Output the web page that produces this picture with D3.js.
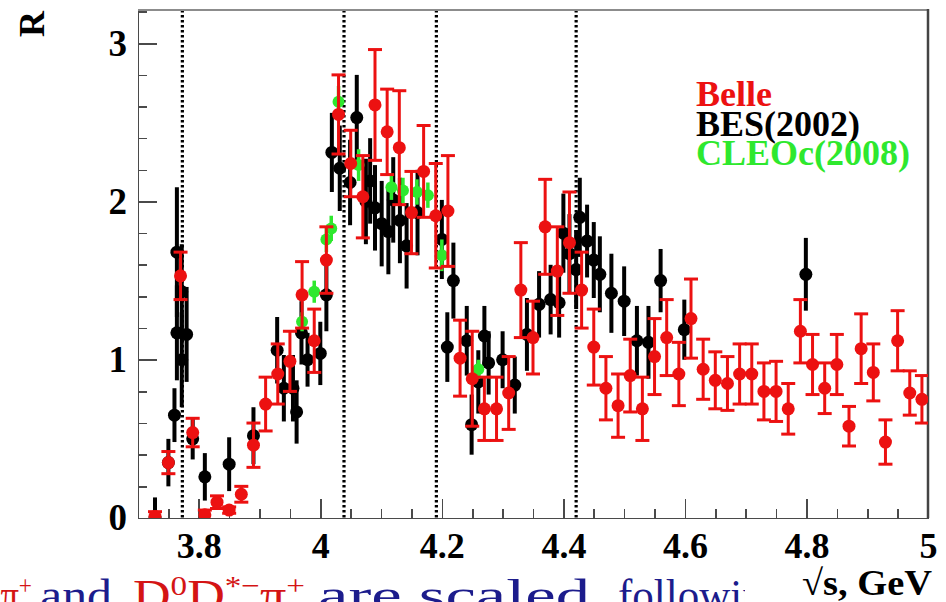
<!DOCTYPE html>
<html lang="en">

<head>
  <meta charset="utf-8">
  <title>R scan</title>
  <script type="text/javascript" src="https://d3js.org/d3.v7.min.js"></script>
  <style>
    body {
      margin: 0;
      background: #ffffff;
    }

    svg {
      display: block;
    }

    /* axes */
    .axis path,
    .axis line {
      stroke: #4a4a4a;
      stroke-width: 1.6;
      shape-rendering: crispEdges;
    }

    .axis text,
    .label {
      font-family: "Liberation Serif", "Times New Roman", serif;
      font-weight: bold;
      fill: #000000;
    }

    .slide {
      font-family: "Liberation Serif", "Times New Roman", serif;
      font-size: 44px;
    }
  </style>
</head>

<body>
  <div id="container"></div>
  <script type="text/javascript">
    //----------------DATA----------------//
    var xTicks = [3.8, 4, 4.2, 4.4, 4.6, 4.8, 5];
    var yTicks = [0, 1, 2, 3];
    var thresholds = [3.773, 4.039, 4.191, 4.421];
    var legendLabels = ["Belle", "BES(2002)", "CLEOc(2008)"];

    // [sqrt(s) GeV, R, error]
    var belle = [
      [3.728, 0.01, 0.03], [3.750, 0.35, 0.07], [3.770, 1.53, 0.15], [3.790, 0.54, 0.09],
      [3.810, 0.02, 0.03], [3.830, 0.10, 0.04], [3.850, 0.05, 0.02], [3.870, 0.15, 0.05],
      [3.890, 0.46, 0.14], [3.910, 0.72, 0.17], [3.930, 0.91, 0.19], [3.950, 0.99, 0.19],
      [3.970, 1.41, 0.21], [3.990, 1.12, 0.20], [4.010, 1.63, 0.21], [4.030, 2.55, 0.25],
      [4.050, 2.24, 0.21], [4.070, 2.03, 0.26], [4.090, 2.61, 0.35], [4.110, 2.44, 0.27],
      [4.130, 2.34, 0.36], [4.150, 1.93, 0.26], [4.170, 2.19, 0.29], [4.190, 1.91, 0.33],
      [4.210, 1.94, 0.35], [4.230, 1.01, 0.24], [4.250, 0.88, 0.30], [4.270, 0.69, 0.20],
      [4.290, 0.69, 0.20], [4.310, 0.79, 0.23], [4.330, 1.44, 0.30], [4.350, 1.14, 0.23],
      [4.370, 1.84, 0.30], [4.390, 1.56, 0.28], [4.410, 1.74, 0.32], [4.430, 1.44, 0.24],
      [4.450, 1.08, 0.24], [4.470, 0.82, 0.20], [4.490, 0.71, 0.20], [4.510, 0.90, 0.23],
      [4.530, 0.69, 0.20], [4.550, 1.02, 0.24], [4.570, 1.14, 0.24], [4.590, 0.91, 0.20],
      [4.610, 1.26, 0.25], [4.630, 0.94, 0.19], [4.650, 0.87, 0.18], [4.670, 0.85, 0.17],
      [4.690, 0.91, 0.19], [4.710, 0.91, 0.19], [4.730, 0.80, 0.18], [4.750, 0.80, 0.19],
      [4.770, 0.69, 0.16], [4.790, 1.18, 0.20], [4.810, 0.97, 0.19], [4.830, 0.82, 0.16],
      [4.850, 0.97, 0.19], [4.870, 0.58, 0.125], [4.890, 1.07, 0.22], [4.910, 0.92, 0.18],
      [4.930, 0.48, 0.14], [4.950, 1.12, 0.19], [4.970, 0.79, 0.14], [4.990, 0.75, 0.15]
    ];

    var bes = [
      [3.728, 0.00, 0.13], [3.750, 0.35, 0.15], [3.760, 0.65, 0.17], [3.764, 1.68, 0.41],
      [3.764, 1.17, 0.30], [3.772, 1.43, 0.30], [3.780, 1.16, 0.30], [3.772, 1.00, 0.30],
      [3.790, 0.50, 0.13], [3.810, 0.26, 0.15], [3.850, 0.34, 0.17], [3.890, 0.52, 0.18],
      [3.929, 1.06, 0.21], [3.940, 0.82, 0.21], [3.955, 0.82, 0.21], [3.961, 0.67, 0.20],
      [3.969, 1.17, 0.20], [3.979, 1.00, 0.17], [4.000, 1.04, 0.20], [4.010, 1.41, 0.23],
      [4.019, 2.31, 0.25], [4.032, 2.21, 0.27], [4.049, 2.12, 0.27], [4.060, 2.53, 0.27],
      [4.075, 2.00, 0.27], [4.082, 2.13, 0.27], [4.090, 1.96, 0.27], [4.101, 1.86, 0.27],
      [4.112, 1.81, 0.27], [4.120, 2.01, 0.27], [4.131, 1.88, 0.27], [4.142, 1.72, 0.27],
      [4.160, 1.93, 0.27], [4.200, 1.76, 0.25], [4.209, 1.08, 0.22], [4.219, 1.50, 0.24],
      [4.241, 1.12, 0.22], [4.249, 0.59, 0.19], [4.260, 0.86, 0.20], [4.270, 1.15, 0.19],
      [4.277, 0.98, 0.20], [4.300, 1.00, 0.18], [4.320, 0.84, 0.18], [4.340, 1.16, 0.23],
      [4.360, 1.35, 0.21], [4.379, 1.38, 0.22], [4.393, 1.36, 0.22], [4.400, 1.80, 0.25],
      [4.410, 1.67, 0.25], [4.421, 1.57, 0.25], [4.427, 1.90, 0.25], [4.439, 1.75, 0.23],
      [4.450, 1.63, 0.24], [4.460, 1.54, 0.24], [4.479, 1.42, 0.25], [4.500, 1.37, 0.22],
      [4.521, 1.12, 0.22], [4.540, 1.11, 0.23], [4.560, 1.50, 0.20], [4.599, 1.19, 0.19],
      [4.799, 1.54, 0.23]
    ];

    var cleo = [
      [3.970, 1.24, 0.06], [3.990, 1.43, 0.07], [4.010, 1.76, 0.08], [4.018, 1.83, 0.08],
      [4.030, 2.63, 0.10], [4.063, 2.23, 0.10], [4.117, 2.09, 0.08], [4.136, 2.07, 0.08],
      [4.159, 2.06, 0.08], [4.177, 2.04, 0.08], [4.200, 1.66, 0.10], [4.260, 0.94, 0.06]
    ];

    //----------------CANVAS PREPARATION----------------//
    var W = 946;
    var H = 602;
    var plotLeft = 138, plotRight = 928, plotTop = 10, plotBottom = 518;

    var svg = d3.select("div#container").append("svg")
      .attr("width", W)
      .attr("height", H);

    var xScale = d3.scaleLinear()
      .domain([3.7, 5.0])
      .range([plotLeft, plotRight]);

    var yScale = d3.scaleLinear()
      .domain([0, 3.21])
      .range([plotBottom, plotTop]);

    var xMinor = d3.range(3.7, 5.001, 0.05);
    var yMinor = d3.range(0, 3.21, 0.2);

    //THRESHOLD LINES (behind the points)
    svg.append("g")
      .selectAll("line")
      .data(thresholds)
      .enter().append("line")
      .attr("x1", function (d) { return xScale(d); })
      .attr("x2", function (d) { return xScale(d); })
      .attr("y1", plotTop)
      .attr("y2", plotBottom)
      .attr("stroke", "#000")
      .attr("stroke-width", 3.2)
      .attr("stroke-dasharray", "2.5,2.5");

    //AXES
    svg.append("g")
      .attr("class", "axis")
      .attr("transform", "translate(0," + plotBottom + ")")
      .call(d3.axisBottom(xScale).tickValues(xMinor).tickSize(-9).tickSizeOuter(0).tickFormat(""));

    var xAxis = svg.append("g")
      .attr("class", "axis")
      .attr("transform", "translate(0," + plotBottom + ")")
      .call(d3.axisBottom(xScale).tickValues(xTicks).tickSize(-19).tickSizeOuter(0)
        .tickPadding(14).tickFormat(d3.format("")));
    xAxis.selectAll("text").attr("font-size", 36);

    svg.append("g")
      .attr("class", "axis")
      .attr("transform", "translate(" + plotLeft + ",0)")
      .call(d3.axisLeft(yScale).tickValues(yMinor).tickSize(-9).tickSizeOuter(0).tickFormat(""));

    var yAxis = svg.append("g")
      .attr("class", "axis")
      .attr("transform", "translate(" + plotLeft + ",0)")
      .call(d3.axisLeft(yScale).tickValues(yTicks).tickSize(-19).tickSizeOuter(0)
        .tickPadding(11).tickFormat(d3.format("")));
    yAxis.selectAll("text").attr("font-size", 37);

    //FRAME
    svg.append("line")
      .attr("x1", plotLeft).attr("x2", plotRight)
      .attr("y1", plotTop).attr("y2", plotTop)
      .attr("stroke", "#8c8c8c").attr("stroke-width", 2);
    svg.append("line")
      .attr("x1", plotRight).attr("x2", plotRight)
      .attr("y1", plotTop - 1).attr("y2", plotBottom)
      .attr("stroke", "#444").attr("stroke-width", 2.5);

    //----------------DATA POINTS----------------//
    svg.append("clipPath")
      .attr("id", "plot-clip")
      .append("rect")
      .attr("x", plotLeft).attr("y", plotTop)
      .attr("width", plotRight - plotLeft).attr("height", plotBottom - plotTop);

    var plot = svg.append("g").attr("clip-path", "url(#plot-clip)");

    function drawSeries(data, color, barWidth, capHalf, radius) {
      var g = plot.append("g");
      g.selectAll("line.bar")
        .data(data)
        .enter().append("line")
        .attr("class", "bar")
        .attr("x1", function (d) { return xScale(d[0]); })
        .attr("x2", function (d) { return xScale(d[0]); })
        .attr("y1", function (d) { return yScale(d[1] - d[2]); })
        .attr("y2", function (d) { return yScale(d[1] + d[2]); })
        .attr("stroke", color)
        .attr("stroke-width", barWidth);
      if (capHalf > 0) {
        [-1, 1].forEach(function (s) {
          g.selectAll("line.cap" + (s + 1))
            .data(data)
            .enter().append("line")
            .attr("class", "cap" + (s + 1))
            .attr("x1", function (d) { return xScale(d[0]) - capHalf; })
            .attr("x2", function (d) { return xScale(d[0]) + capHalf; })
            .attr("y1", function (d) { return yScale(d[1] + s * d[2]); })
            .attr("y2", function (d) { return yScale(d[1] + s * d[2]); })
            .attr("stroke", color)
            .attr("stroke-width", barWidth);
        });
      }
      g.selectAll("circle")
        .data(data)
        .enter().append("circle")
        .attr("cx", function (d) { return xScale(d[0]); })
        .attr("cy", function (d) { return yScale(d[1]); })
        .attr("r", radius)
        .attr("fill", color);
    }

    drawSeries(bes, "#000000", 4, 0, 6.5);
    drawSeries(cleo, "#2ee82e", 3.5, 0, 6);
    drawSeries(belle, "#ec1111", 3, 7, 6.5);

    //----------------LABELS----------------//
    var legendColors = ["#ec1111", "#000000", "#2ee82e"];
    svg.append("g")
      .selectAll("text")
      .data(legendLabels)
      .enter().append("text")
      .attr("class", "label")
      .attr("x", 696)
      .attr("y", function (d, i) { return 106 + i * 29.5; })
      .attr("font-size", 36)
      .style("fill", function (d, i) { return legendColors[i]; })
      .text(function (d) { return d; });

    svg.append("text")
      .attr("class", "label")
      .attr("transform", "translate(44,24) rotate(-90)")
      .attr("text-anchor", "middle")
      .attr("font-size", 36)
      .text("R");

    //SLIDE TEXT BELOW THE CHART
    var red = "#d41414", navy = "#1c1c8c";

    var t1 = svg.append("text").attr("class", "slide").attr("x", -26).attr("y", 610)
      .attr("textLength", 58).attr("lengthAdjust", "spacingAndGlyphs").attr("fill", red);
    t1.append("tspan").text("D\u03c0");
    t1.append("tspan").attr("baseline-shift", "super").attr("font-size", 28).text("+");

    svg.append("text").attr("class", "slide").attr("x", 40).attr("y", 610)
      .attr("textLength", 72).attr("lengthAdjust", "spacingAndGlyphs").attr("fill", navy)
      .text("and");

    var t3 = svg.append("text").attr("class", "slide").attr("x", 133).attr("y", 610)
      .attr("textLength", 172).attr("lengthAdjust", "spacingAndGlyphs").attr("fill", red);
    t3.append("tspan").text("D");
    t3.append("tspan").attr("baseline-shift", "super").attr("font-size", 28).text("0");
    t3.append("tspan").text("D");
    t3.append("tspan").attr("baseline-shift", "super").attr("font-size", 28).text("*\u2212");
    t3.append("tspan").text("\u03c0");
    t3.append("tspan").attr("baseline-shift", "super").attr("font-size", 28).text("+");

    svg.append("text").attr("class", "slide").attr("x", 318).attr("y", 610)
      .attr("textLength", 272).attr("lengthAdjust", "spacingAndGlyphs").attr("fill", navy)
      .text("are scaled");

    svg.append("text").attr("class", "slide").attr("x", 618).attr("y", 610)
      .attr("textLength", 300).attr("lengthAdjust", "spacingAndGlyphs").attr("fill", navy)
      .text("following isospin");

    //AXIS TITLE ON TOP OF SLIDE TEXT
    svg.append("rect")
      .attr("x", 745).attr("y", 562)
      .attr("width", W - 745).attr("height", H - 562)
      .attr("fill", "#ffffff");

    svg.append("text")
      .attr("class", "label")
      .attr("x", 802)
      .attr("y", 595)
      .attr("textLength", 130)
      .attr("lengthAdjust", "spacingAndGlyphs")
      .attr("font-size", 36)
      .text("\u221as, GeV");
  </script>
</body>

</html>
